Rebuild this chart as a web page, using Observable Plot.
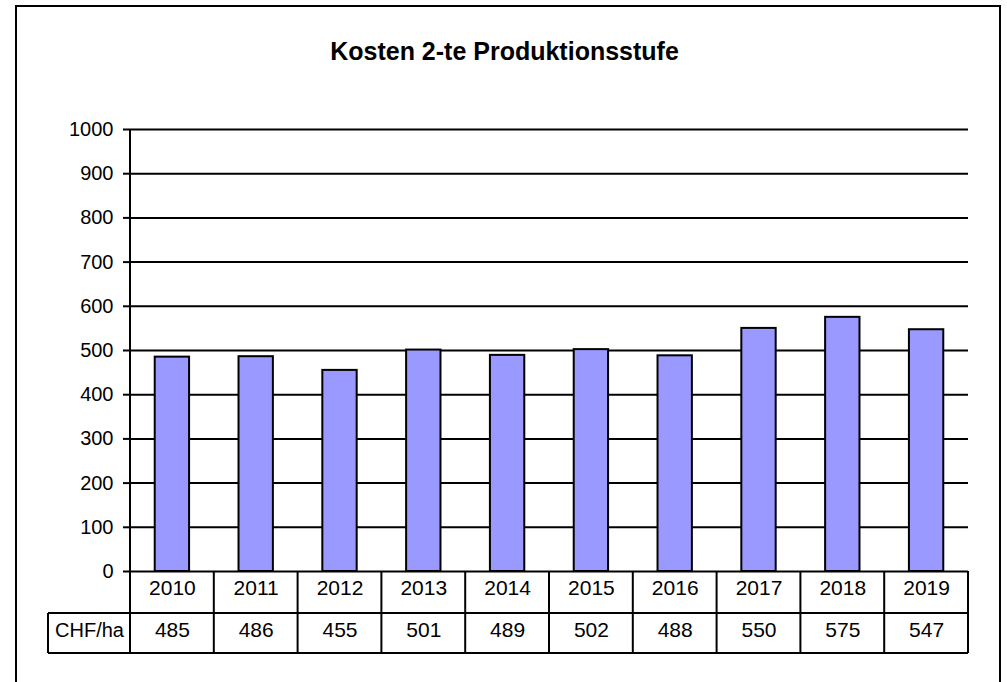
<!DOCTYPE html>
<html><head><meta charset="utf-8">
<script src="https://cdn.jsdelivr.net/npm/d3@7"></script>
<script src="https://cdn.jsdelivr.net/npm/@observablehq/plot@0.6"></script>
<style>
body{margin:0;background:#fff;font-family:"Liberation Sans",Arial,sans-serif;}
#wrap{position:relative;width:1007px;height:682px;overflow:hidden;}
#border{position:absolute;left:15px;top:5px;width:986px;height:690px;border:2px solid #000;border-bottom:none;box-sizing:border-box;}
#title{position:absolute;left:0;width:1009px;top:37px;text-align:center;font-weight:bold;font-size:25px;color:#000;}
#chart{position:absolute;left:0;top:0;}
</style></head><body>
<div id="wrap"><div id="border"></div><div id="title">Kosten 2-te Produktionsstufe</div><div id="chart"></div></div>
<script>
const years = ["2010","2011","2012","2013","2014","2015","2016","2017","2018","2019"];
const values = [485,486,455,501,489,502,488,550,575,547];
const yTicks = [0,100,200,300,400,500,600,700,800,900,1000];
const rowLabel = "CHF/ha";

const data = years.map((year, i) => ({year, value: values[i]}));
const PAD = 0.59;
const font = "Liberation Sans, Arial, sans-serif";

// table grid drawn with the x band scale
function tableGrid(index, scales, vals, dims) {
  const x = scales.x;
  const step = x.step ? x.step() : (x(years[1]) - x(years[0]));
  const y0 = scales.y(0);
  const r1 = y0 + 42, r2 = y0 + 82;
  const left = dims.marginLeft, right = dims.width - dims.marginRight;
  const g = d3.create("svg:g").attr("stroke", "#000").attr("stroke-width", 2).attr("fill", "none");
  const bounds = years.map(d => x(d) - step * PAD / 2);
  bounds.push(bounds[bounds.length - 1] + step);
  for (const b of bounds) g.append("line").attr("x1", b).attr("x2", b).attr("y1", y0).attr("y2", r2);
  g.append("line").attr("x1", 48).attr("x2", right).attr("y1", r1).attr("y2", r1);
  g.append("line").attr("x1", 48).attr("x2", right).attr("y1", r2).attr("y2", r2);
  g.append("line").attr("x1", 48).attr("x2", 48).attr("y1", r1).attr("y2", r2);
  g.append("line").attr("x1", left).attr("x2", left).attr("y1", scales.y(1000)).attr("y2", y0);
  return g.node();
}

const chart = Plot.plot({
  width: 1007,
  height: 682,
  marginLeft: 130,
  marginRight: 39,
  marginTop: 129,
  marginBottom: 111,
  style: {fontFamily: font, fontSize: "20px", color: "#000", background: "transparent"},
  x: {domain: years, paddingInner: PAD, paddingOuter: PAD / 2, round: false, axis: null},
  y: {domain: [0, 1000], axis: null},
  marks: [
    Plot.ruleY(yTicks, {stroke: "#000", strokeWidth: 2, strokeOpacity: 1}),
    Plot.barY(data, {x: "year", y: "value", fill: "#9999FF", stroke: "#000", strokeWidth: 2}),
    Plot.axisY({ticks: yTicks, label: null, tickSize: 7, tickPadding: 10, tickFormat: d => String(d), fontSize: 20, stroke: "#000", strokeWidth: 2}),
    tableGrid,
    Plot.text(data, {x: "year", text: "year", frameAnchor: "bottom", dy: 23, fontSize: 21, fill: "#000"}),
    Plot.text(data, {x: "year", text: d => String(d.value), frameAnchor: "bottom", dy: 65, fontSize: 21, fill: "#000"}),
    Plot.text([rowLabel], {text: d => d, frameAnchor: "bottom-left", dx: -41, dy: 65, textAnchor: "middle", fontSize: 20, fill: "#000"})
  ]
});
document.getElementById("chart").appendChild(chart);
</script>
</body></html>
